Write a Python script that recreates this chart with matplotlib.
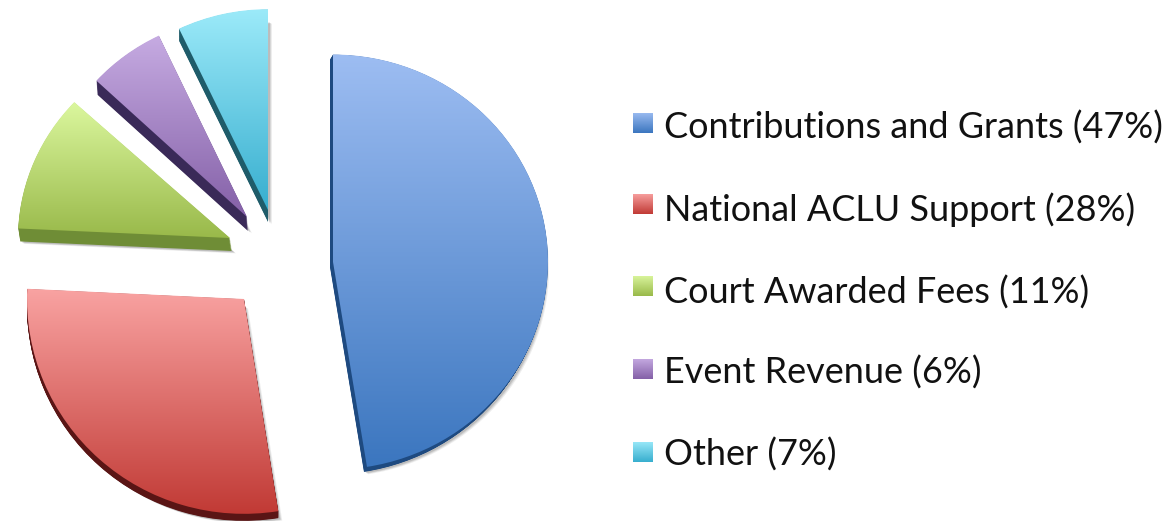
import numpy as np
from matplotlib import pyplot as plt
from matplotlib.colors import LinearSegmentedColormap
from matplotlib.patches import Wedge, Rectangle
from matplotlib.transforms import Affine2D

categories = ['Contributions and Grants', 'National ACLU Support', 'Court Awarded Fees', 'Event Revenue', 'Other']
values = [47, 28, 11, 6, 7]

# gradient top, gradient bottom, side
tops = ['#9dbdf2', '#f9a3a2', '#dbf79e', '#c6abe2', '#9ceaf9']
bottoms = ['#3b76bf', '#c13a35', '#99b94a', '#8460a7', '#37aecf']
sides = ['#1e4a80', '#5a1515', '#6f8d36', '#3a2a58', '#1f5c6a']

W, H = 1171, 521
# pixel position of every slice, slices are pulled apart by hand
centers = [(333, 262), (244, 299), (230, 238), (247, 217), (268, 210)]
radii = [215, 217, 212, 205, 207]
squash = [0.965, 0.99, 0.945, 0.98, 0.97]
extrude = [(-3, 5), (0, 7), (2, 13), (1, 14), (0, 12)]

legend_y = [123, 204, 286, 369, 452]
text_y = [128, 210, 293, 373, 455]


def py(y):
    return H - y


def tilt(ax, x, y, s):
    # squash around the slice's own apex, the pie is seen a bit from above
    return Affine2D().translate(0, -y).scale(1, s).translate(0, y) + ax.transData


def fill_gradient(ax, artist, top, bottom, box):
    cmap = LinearSegmentedColormap.from_list('g', [top, bottom])
    grad = np.linspace(0, 1, 256).reshape(-1, 1)
    im = ax.imshow(grad, cmap=cmap, extent=box, origin='upper', aspect='auto', zorder=artist.get_zorder() + 0.1)
    im.set_clip_path(artist)


fig = plt.figure(figsize=(W / 100, H / 100), dpi=100)
ax = fig.add_axes([0, 0, 1, 1])
wedges, _ = ax.pie(values, startangle=90, counterclock=False, radius=210, frame=False)
ax.set_xlim(0, W)
ax.set_ylim(0, H)
ax.set_aspect('equal')

for i, w in enumerate(wedges):
    cx, cy = centers[i]
    r = radii[i]
    s_y = squash[i]
    w.set_center((cx, py(cy)))
    w.set_radius(r)
    w.set_facecolor('none')
    w.set_edgecolor('none')
    w.set_zorder(3)
    dx, dy = extrude[i]

    # soft grey shadow
    for grow, alpha in [(4, 0.10), (3, 0.15), (2, 0.2)]:
        yy = py(cy + dy + grow * 0.6)
        ax.add_patch(Wedge((cx + dx + grow, yy), r, w.theta1, w.theta2, fc='#555555', ec='none',
                           alpha=alpha, zorder=1, transform=tilt(ax, cx, yy, s_y)))
    # side of the slice
    for s in np.linspace(1, 0.05, 16):
        yy = py(cy + dy * s)
        ax.add_patch(Wedge((cx + dx * s, yy), r, w.theta1, w.theta2, fc=sides[i], ec='none',
                           zorder=2, transform=tilt(ax, cx, yy, s_y)))

    a = np.radians(np.linspace(w.theta1, w.theta2, 60))
    ys = [cy] + list(cy - r * s_y * np.sin(a))
    w.set_transform(tilt(ax, cx, py(cy), s_y))
    fill_gradient(ax, w, tops[i], bottoms[i], (cx - r - 5, cx + r + 5, py(max(ys)), py(min(ys))))

for i, c in enumerate(categories):
    y = legend_y[i]
    box = Rectangle((633, py(y + 10.5)), 20, 21, fc='none', ec='none', zorder=3)
    ax.add_patch(box)
    fill_gradient(ax, box, tops[i], bottoms[i], (633, 653, py(y + 10.5), py(y - 10.5)))
    ax.text(664, py(text_y[i]), f'{c} ({values[i]}%)', family='Lato', fontsize=25.9, color='#111111',
            ha='left', va='center')

ax.set_xlim(0, W)
ax.set_ylim(0, H)
ax.axis('off')
fig.savefig('out.png', dpi=100)
